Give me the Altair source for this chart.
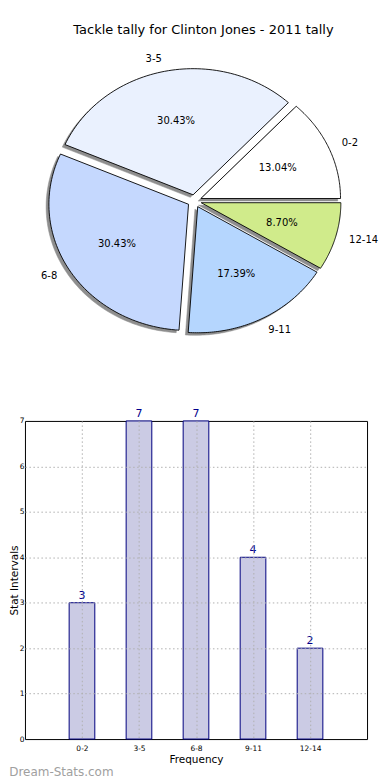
import json
import altair as alt
import pandas as pd

# ---- data ----
categories = ["0-2", "3-5", "6-8", "9-11", "12-14"]
counts = [3, 7, 7, 4, 2]
slice_colors = ["#ffffff", "#eaf1fe", "#c5d8fe", "#b5d6fe", "#d0eb8b"]

chart_title = "Tackle tally for Clinton Jones - 2011 tally"
x_title = "Frequency"
y_title = "Stat Intervals"
watermark = "Dream-Stats.com"
y_ticks = [0, 1, 2, 3, 4, 5, 6, 7]

df = pd.DataFrame({"cat": categories, "count": counts,
                   "idx": list(range(len(categories)))})

FONT = "DejaVu Sans"
EXPLODE = 0.05
SHADOW = 0.02
N = 72

# pie panel geometry (plot-area pixels per data unit)
PX, PY = 140.0, 126.5
pie_w, pie_h = 358, 355
cx_px, cy_px = 170.0, 154.5
xdom = [-cx_px / PX, (pie_w - cx_px) / PX]
ydom = [-(pie_h - cy_px) / PY, cy_px / PY]
xs = alt.Scale(domain=xdom, nice=False, zero=False)
ys = alt.Scale(domain=ydom, nice=False, zero=False)

base = (
    alt.Chart(df)
    .transform_joinaggregate(total="sum(count)")
    .transform_window(cum="sum(count)", sort=[alt.SortField("idx")], frame=[None, 0])
    .transform_calculate(a0="2*PI*(datum.cum - datum.count)/datum.total")
    .transform_calculate(a1="2*PI*datum.cum/datum.total")
    .transform_calculate(mid="(datum.a0 + datum.a1)/2")
    .transform_calculate(ex=f"{EXPLODE}*cos(datum.mid)")
    .transform_calculate(ey=f"{EXPLODE}*sin(datum.mid)")
)

poly = (
    base.transform_calculate(pts=f"sequence(0, {N + 2})")
    .transform_flatten(["pts"])
    .transform_calculate(t=f"datum.a0 + (datum.a1 - datum.a0)*min(datum.pts, {N})/{N}")
    .transform_calculate(px=f"datum.ex + (datum.pts > {N} ? 0 : cos(datum.t))")
    .transform_calculate(py=f"datum.ey + (datum.pts > {N} ? 0 : sin(datum.t))")
    .transform_calculate(sx=f"datum.px - {SHADOW}")
    .transform_calculate(sy=f"datum.py - {SHADOW}")
)

shadows = poly.mark_line(interpolate="linear-closed", fill="#8e8e8e",
                         stroke="#8e8e8e", strokeWidth=0.5).encode(
    x=alt.X("sx:Q", scale=xs, axis=None),
    y=alt.Y("sy:Q", scale=ys, axis=None),
    detail="cat:N",
    order="pts:Q",
)

wedges = poly.mark_line(interpolate="linear-closed", stroke="black",
                        strokeWidth=0.9).encode(
    x=alt.X("px:Q", scale=xs, axis=None),
    y=alt.Y("py:Q", scale=ys, axis=None),
    fill=alt.Fill("cat:N", scale=alt.Scale(domain=categories, range=slice_colors),
                  legend=None),
    detail="cat:N",
    order="pts:Q",
)

labs = (
    base.transform_calculate(lx="datum.ex + 1.1*cos(datum.mid)")
    .transform_calculate(ly="datum.ey + 1.1*sin(datum.mid)")
    .transform_calculate(qx="datum.ex + 0.6*cos(datum.mid)")
    .transform_calculate(qy="datum.ey + 0.6*sin(datum.mid)")
    .transform_calculate(pct="format(100*datum.count/datum.total, '.2f') + '%'")
)

lab_right = labs.transform_filter("cos(datum.mid) > 0").mark_text(
    align="left", baseline="middle", fontSize=10, font=FONT, color="black"
).encode(x=alt.X("lx:Q", scale=xs, axis=None), y=alt.Y("ly:Q", scale=ys, axis=None),
         text="cat:N")
lab_left = labs.transform_filter("cos(datum.mid) <= 0").mark_text(
    align="right", baseline="middle", fontSize=10, font=FONT, color="black"
).encode(x=alt.X("lx:Q", scale=xs, axis=None), y=alt.Y("ly:Q", scale=ys, axis=None),
         text="cat:N")
pct_text = labs.mark_text(
    align="center", baseline="middle", fontSize=10, font=FONT, color="black"
).encode(x=alt.X("qx:Q", scale=xs, axis=None), y=alt.Y("qy:Q", scale=ys, axis=None),
         text="pct:N")

pie = alt.layer(shadows, wedges, lab_right, lab_left, pct_text).properties(
    width=pie_w, height=pie_h,
    title=alt.TitleParams(chart_title, fontSize=13, fontWeight="normal", font=FONT,
                          anchor="middle", offset=10, color="black"),
)

# ---- bar panel ----
label_expr = f"{json.dumps(categories)}[datum.value]"
bar_base = alt.Chart(df).transform_calculate(x0="datum.idx - 0.225").transform_calculate(
    x1="datum.idx + 0.225")
bx = alt.Scale(domain=[-1, 5], nice=False, zero=False)
by = alt.Scale(domain=[0, 7], nice=False)
edge_grid_off = {"condition": {"test": "datum.value === 0 || datum.value === 7",
                               "value": 0}, "value": 1}

bars = bar_base.mark_bar(fill="#cbcbe4", stroke="#000080", strokeWidth=1).encode(
    x=alt.X("x0:Q", scale=bx, axis=alt.Axis(
        values=list(range(len(categories))), labelExpr=label_expr, title=x_title,
        grid=True, gridDash=[1.5, 2.5], gridColor="#b0b0b0", ticks=False, domain=False,
        labelFontSize=7.5, labelPadding=5, labelColor="black", labelFont=FONT,
        titleFontSize=10.5, titleFont=FONT, titleFontWeight="normal", titlePadding=3,
        titleColor="black", zindex=1)),
    x2="x1:Q",
    y=alt.Y("count:Q", scale=by, axis=alt.Axis(
        values=y_ticks, title=y_title, grid=True, gridDash=[1.5, 2.5],
        gridColor="#b0b0b0", gridOpacity=edge_grid_off, ticks=False, domain=False,
        labelFontSize=7.5, labelPadding=1, labelColor="black", labelFont=FONT,
        titleFontSize=10.5, titleFont=FONT, titleFontWeight="normal", titlePadding=0,
        titleColor="black", zindex=1)),
    y2=alt.datum(0),
)
vals = alt.Chart(df).mark_text(baseline="bottom", dy=-2, color="#00008b",
                               fontSize=11, font=FONT).encode(
    x=alt.X("idx:Q", scale=bx), y=alt.Y("count:Q", scale=by), text="count:Q")

bar_panel = alt.layer(bars, vals).properties(
    width=343, height=319,
    view=alt.ViewBackground(stroke="black", strokeWidth=1),
    title=alt.TitleParams(watermark, orient="bottom", anchor="start", frame="bounds",
                          fontSize=12, fontWeight="normal", font=FONT, color="#a0a0a0",
                          offset=2),
)

chart = alt.vconcat(pie, bar_panel, spacing=20, bounds="flush").properties(
    padding={"left": 0, "top": 15, "right": 0, "bottom": 0}
).configure_view(strokeWidth=0)

chart.save("out.html", embed_options={"renderer": "svg", "actions": False})
